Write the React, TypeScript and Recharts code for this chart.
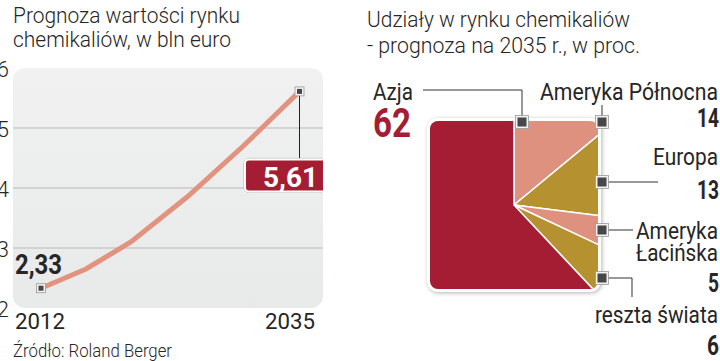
import { LineChart, Line, XAxis, YAxis, ReferenceLine, PieChart, Pie, Cell } from "recharts";

// wartość rynku, mld euro
const years = [2012, 2016, 2020, 2025, 2030, 2035];
const values = [2.33, 2.65, 3.1, 3.85, 4.7, 5.61];
const yTicks = [2, 3, 4, 5, 6];
const gridValues = [3, 4, 5];
const xTicks = [2012, 2035];

// udziały 2035, w proc.
const regions = ["Ameryka Północna", "Europa", "Ameryka Łacińska", "reszta świata", "Azja"];
const shares = [14, 13, 5, 6, 62];

const RED = "#a51d33";
const SALMON = "#de917f";
const GOLD = "#b5922f";
const LINE = "#e2937f";
const TEXT = "#262626";
const FONT = "Roboto, 'Liberation Sans', sans-serif";

const sliceColors = [SALMON, GOLD, SALMON, GOLD, RED];

const lineData = years.map((year, i) => ({ year, value: values[i] }));
const pieData = regions.map((name, i) => ({ name, value: shares[i] }));

const fmt = (v: number) => v.toFixed(2).replace(".", ",");

function Marker({ x, y, s }: { x: number; y: number; s: number }) {
  return (
    <g>
      <rect x={x - s / 2 - 2} y={y - s / 2 - 2} width={s + 4} height={s + 4} fill="#f2f2f2" stroke="#9a9a9a" strokeWidth={0.8} />
      <rect x={x - s / 2} y={y - s / 2} width={s} height={s} fill="#474747" />
    </g>
  );
}

// markers + value labels on first and last point
function EndDot(props: any) {
  const { cx, cy, index, value } = props;
  if (index === 0) {
    return (
      <g key={index}>
        <text x={cx - 26} y={cy - 14} fontFamily={FONT} fontWeight={700} fontSize={28} fill={TEXT} textLength={47} lengthAdjust="spacingAndGlyphs">
          {fmt(value)}
        </text>
        <Marker x={cx} y={cy} s={5} />
      </g>
    );
  }
  if (index === years.length - 1) {
    return (
      <g key={index}>
        <line x1={cx} y1={cy} x2={cx} y2={cy + 68} stroke="#222" strokeWidth={1} />
        <rect x={cx - 55.5} y={cy + 67} width={95} height={34} rx={5} fill="none" stroke="#b5b5b5" strokeWidth={1} />
        <rect x={cx - 54.5} y={cy + 68} width={93} height={32} rx={4} fill={RED} stroke="#fff" strokeWidth={2} />
        <text x={cx - 9} y={cy + 96} textAnchor="middle" fontFamily={FONT} fontWeight={700} fontSize={28} fill="#fff" textLength={55} lengthAdjust="spacingAndGlyphs">
          {fmt(value)}
        </text>
        <Marker x={cx} y={cy} s={5} />
      </g>
    );
  }
  return <g key={index} />;
}

function XTick(props: any) {
  const { x, y, payload } = props;
  const first = payload.value === xTicks[0];
  return (
    <text x={first ? x - 26 : x - 34.5} y={y + 21} fontFamily={FONT} fontSize={22} fill={TEXT} textLength={50} lengthAdjust="spacingAndGlyphs">
      {payload.value}
    </text>
  );
}

function YTick(props: any) {
  const { x, y, payload } = props;
  return (
    <text x={x} y={y + 9} textAnchor="end" fontFamily={FONT} fontWeight={300} fontSize={22} fill={TEXT}>
      {payload.value}
    </text>
  );
}

function Txt({ x, y, w, size = 22, weight = 400, fill = TEXT, anchor = "start", children }: any) {
  return (
    <text x={x} y={y} fontFamily={FONT} fontSize={size} fontWeight={weight} fill={fill} textAnchor={anchor} textLength={w} lengthAdjust="spacingAndGlyphs">
      {children}
    </text>
  );
}

export default function App() {
  const num = (i: number) => String(shares[i]);
  return (
    <div style={{ position: "absolute", left: 0, top: 0, width: 720, height: 361, background: "#fff", overflow: "hidden" }}>
      {/* plot background */}
      <div
        style={{
          position: "absolute",
          left: 13,
          top: 68,
          width: 310,
          height: 240,
          borderRadius: 12,
          background: "linear-gradient(#f1f1f1, #e8e9e9)",
        }}
      />
      <div style={{ position: "absolute", left: 0, top: 0 }}>
        <LineChart width={330} height={340} data={lineData} margin={{ top: 68, right: 7, bottom: 0, left: 0 }}>
          <XAxis
            dataKey="year"
            type="number"
            domain={[2009.51, 2037.09]}
            ticks={xTicks}
            allowDataOverflow
            axisLine={false}
            tickLine={false}
            tickSize={0}
            tickMargin={0}
            height={32}
            tick={<XTick />}
          />
          <YAxis
            domain={[2, 6]}
            ticks={yTicks}
            width={13}
            axisLine={false}
            tickLine={false}
            tickSize={4}
            tickMargin={0}
            tick={<YTick />}
          />
          {gridValues.map((v) => (
            <ReferenceLine key={v} y={v} stroke="#b9b9b9" strokeWidth={1} />
          ))}
          <Line
            type="linear"
            dataKey="value"
            stroke={LINE}
            strokeWidth={5}
            dot={EndDot}
            activeDot={false}
            isAnimationActive={false}
          />
        </LineChart>
      </div>

      {/* square pie */}
      <div
        style={{
          position: "absolute",
          left: 430,
          top: 121,
          width: 168,
          height: 168,
          borderRadius: 8,
          overflow: "hidden",
          boxShadow: "0 0 0 3px #fff, 1px 1px 4px 3px rgba(0,0,0,0.3)",
        }}
      >
        <PieChart width={168} height={168} margin={{ top: 0, right: 0, bottom: 0, left: 0 }}>
          <Pie
            data={pieData}
            dataKey="value"
            cx="50%"
            cy="50%"
            innerRadius={0}
            outerRadius={125}
            startAngle={90}
            endAngle={-270}
            stroke="#fff"
            strokeWidth={1.5}
            isAnimationActive={false}
          >
            {pieData.map((d, i) => (
              <Cell key={d.name} fill={sliceColors[i]} />
            ))}
          </Pie>
        </PieChart>
      </div>

      {/* titles, source and pie annotations */}
      <svg width={720} height={361} style={{ position: "absolute", left: 0, top: 0, pointerEvents: "none" }}>
        <Txt x={13} y={23} w={227} size={22.5} weight={300}>Prognoza wartości rynku</Txt>
        <Txt x={13} y={47} w={218} size={22.5} weight={300}>chemikaliów, w bln euro</Txt>
        <Txt x={367} y={27} w={263} size={22.5} weight={300}>Udziały w rynku chemikaliów</Txt>
        <Txt x={367} y={53} w={273} size={22.5} weight={300}>- prognoza na 2035 r., w proc.</Txt>
        <Txt x={13} y={357} w={159} size={19} weight={300}>Źródło: Roland Berger</Txt>

        {/* Azja */}
        <Txt x={373} y={100} w={40} size={23}>{regions[4]}</Txt>
        <Txt x={373} y={137} w={38} size={40} weight={700} fill={RED}>{num(4)}</Txt>
        <polyline points="423,90 522,90 522,122" fill="none" stroke="#333" strokeWidth={1} />
        <Marker x={522} y={122} s={9} />

        {/* Ameryka Północna */}
        <Txt x={540} y={100} w={178} size={23}>{regions[0]}</Txt>
        <Txt x={719} y={127} w={22} size={26} weight={700} anchor="end">{num(0)}</Txt>
        <line x1={602} y1={105} x2={602} y2={122} stroke="#333" strokeWidth={1} />
        <Marker x={602} y={122} s={9} />

        {/* Europa */}
        <Txt x={653} y={165} w={65} size={23}>{regions[1]}</Txt>
        <Txt x={719} y={199} w={22} size={26} weight={700} anchor="end">{num(1)}</Txt>
        <line x1={602} y1={182} x2={658} y2={182} stroke="#333" strokeWidth={1} />
        <Marker x={602} y={182} s={9} />

        {/* Ameryka Łacińska */}
        <Txt x={636} y={239} w={82} size={23}>{regions[2].split(" ")[0]}</Txt>
        <Txt x={636} y={261} w={82} size={23}>{regions[2].split(" ")[1]}</Txt>
        <Txt x={719} y={292} w={11} size={26} weight={700} anchor="end">{num(2)}</Txt>
        <line x1={602} y1={230} x2={633} y2={230} stroke="#333" strokeWidth={1} />
        <Marker x={602} y={230} s={9} />

        {/* reszta świata */}
        <Txt x={595} y={323} w={123} size={23}>{regions[3]}</Txt>
        <Txt x={719} y={355} w={12} size={28} weight={700} anchor="end">{num(3)}</Txt>
        <polyline points="602,278 632,278 632,297" fill="none" stroke="#333" strokeWidth={1} />
        <Marker x={602} y={278} s={9} />
      </svg>
    </div>
  );
}
